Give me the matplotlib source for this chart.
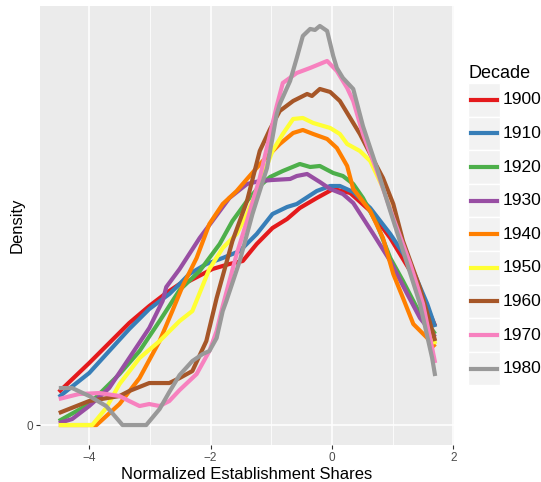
import numpy as np
import matplotlib
matplotlib.use("Agg")
import matplotlib.pyplot as plt
from matplotlib.patches import Rectangle
from matplotlib.lines import Line2D

plt.rcParams['font.family'] = ['Liberation Sans', 'DejaVu Sans']

########## DATA (density of normalized establishment shares by decade) #########
decades = ['1900', '1910', '1920', '1930', '1940', '1950', '1960', '1970', '1980']
colors = ['#E41A1C', '#377EB8', '#4DAF4A', '#984EA3', '#FF7F00',
          '#FFFF33', '#A65628', '#F781BF', '#999999']

x_1900 = [-4.5, -4.0, -3.34, -3.01, -2.73, -2.51, -2.35, -1.97, -1.69, -1.47, -1.24,
          -0.98, -0.74, -0.53, -0.25, 0.02, 0.30, 0.63, 0.96, 1.29, 1.50, 1.70]
d_1900 = [0.033, 0.062, 0.102, 0.119, 0.132, 0.141, 0.144, 0.156, 0.161, 0.164, 0.181,
          0.197, 0.206, 0.217, 0.227, 0.236, 0.232, 0.214, 0.187, 0.154, 0.127, 0.099]

x_1910 = [-4.5, -4.0, -3.34, -3.01, -2.68, -2.51, -2.35, -2.07, -1.80, -1.52, -1.24,
          -0.98, -0.74, -0.58, -0.25, -0.03, 0.13, 0.35, 0.63, 0.96, 1.29, 1.57, 1.70]
d_1910 = [0.028, 0.052, 0.096, 0.116, 0.131, 0.141, 0.151, 0.161, 0.167, 0.174, 0.191,
          0.211, 0.218, 0.221, 0.234, 0.239, 0.239, 0.233, 0.217, 0.191, 0.161, 0.121, 0.098]

x_1920 = [-4.5, -4.0, -3.50, -3.17, -2.84, -2.51, -2.18, -1.85, -1.64, -1.40, -1.19,
          -1.02, -0.81, -0.53, -0.36, -0.20, 0.02, 0.18, 0.35, 0.51, 0.74, 0.96, 1.17,
          1.40, 1.70]
d_1920 = [0.004, 0.021, 0.051, 0.074, 0.104, 0.135, 0.154, 0.181, 0.204, 0.224, 0.239,
          0.248, 0.254, 0.261, 0.258, 0.259, 0.252, 0.249, 0.241, 0.227, 0.201, 0.167,
          0.144, 0.117, 0.091]

x_1930 = [-4.5, -4.28, -4.0, -3.67, -3.34, -3.01, -2.79, -2.73, -2.51, -2.18, -1.97,
          -1.69, -1.40, -1.19, -0.98, -0.69, -0.58, -0.41, -0.20, -0.03, 0.18, 0.35,
          0.68, 0.96, 1.24, 1.45, 1.70]
d_1930 = [0.002, 0.006, 0.019, 0.037, 0.067, 0.097, 0.124, 0.138, 0.156, 0.187, 0.204,
          0.227, 0.241, 0.244, 0.245, 0.246, 0.249, 0.251, 0.243, 0.236, 0.231, 0.222,
          0.191, 0.164, 0.131, 0.107, 0.088]

x_1940 = [-4.5, -3.88, -3.50, -3.17, -2.84, -2.63, -2.46, -2.23, -2.02, -1.80, -1.57,
          -1.40, -1.14, -0.86, -0.64, -0.48, -0.31, -0.08, 0.08, 0.25, 0.35, 0.63, 0.84,
          1.01, 1.17, 1.34, 1.57, 1.70]
d_1940 = [0.0, 0.0, 0.021, 0.047, 0.084, 0.114, 0.139, 0.167, 0.201, 0.221, 0.234,
          0.246, 0.264, 0.281, 0.292, 0.295, 0.291, 0.286, 0.277, 0.259, 0.236, 0.214,
          0.187, 0.151, 0.127, 0.101, 0.087, 0.078]

x_1950 = [-4.5, -3.95, -3.72, -3.50, -3.17, -2.84, -2.51, -2.30, -2.02, -1.80, -1.57,
          -1.40, -1.19, -0.98, -0.81, -0.64, -0.48, -0.31, -0.03, 0.13, 0.25, 0.46, 0.63,
          0.84, 1.07, 1.29, 1.50, 1.70]
d_1950 = [0.0, 0.0, 0.017, 0.041, 0.067, 0.084, 0.104, 0.114, 0.156, 0.177, 0.191,
          0.211, 0.241, 0.274, 0.291, 0.306, 0.307, 0.302, 0.297, 0.291, 0.281, 0.274,
          0.264, 0.237, 0.199, 0.162, 0.124, 0.081]

x_1960 = [-4.5, -4.0, -3.50, -3.34, -3.01, -2.68, -2.51, -2.30, -2.07, -1.90, -1.64,
          -1.40, -1.19, -1.02, -0.86, -0.64, -0.41, -0.33, -0.20, -0.03, 0.13, 0.30,
          0.46, 0.63, 0.84, 1.01, 1.17, 1.45, 1.70]
d_1960 = [0.012, 0.024, 0.029, 0.034, 0.042, 0.042, 0.047, 0.054, 0.084, 0.127, 0.184,
          0.224, 0.274, 0.296, 0.314, 0.324, 0.331, 0.329, 0.336, 0.333, 0.324, 0.307,
          0.291, 0.271, 0.247, 0.221, 0.184, 0.137, 0.084]

x_1970 = [-4.5, -4.17, -3.83, -3.50, -3.34, -3.17, -3.01, -2.84, -2.68, -2.51, -2.23,
          -2.02, -1.90, -1.80, -1.57, -1.40, -1.19, -1.02, -0.91, -0.81, -0.58, -0.36,
          -0.20, -0.08, 0.08, 0.25, 0.35, 0.51, 0.74, 1.01, 1.29, 1.50, 1.70]
d_1970 = [0.026, 0.031, 0.032, 0.029, 0.024, 0.019, 0.021, 0.019, 0.024, 0.035, 0.051,
          0.074, 0.094, 0.119, 0.171, 0.204, 0.247, 0.291, 0.319, 0.342, 0.352, 0.357,
          0.361, 0.364, 0.354, 0.337, 0.324, 0.291, 0.254, 0.207, 0.161, 0.121, 0.062]

x_1980 = [-4.5, -4.28, -4.0, -3.72, -3.45, -3.06, -2.84, -2.68, -2.51, -2.30, -2.13,
          -2.02, -1.90, -1.80, -1.74, -1.52, -1.31, -1.07, -0.91, -0.86, -0.69, -0.58,
          -0.48, -0.36, -0.28, -0.20, -0.08, 0.02, 0.08, 0.18, 0.35, 0.51, 0.74, 0.96,
          1.24, 1.45, 1.65, 1.70]
d_1980 = [0.037, 0.037, 0.029, 0.019, 0.0, 0.0, 0.016, 0.033, 0.050, 0.064, 0.071,
          0.074, 0.087, 0.114, 0.124, 0.164, 0.211, 0.257, 0.311, 0.321, 0.344, 0.367,
          0.389, 0.396, 0.395, 0.399, 0.394, 0.369, 0.357, 0.347, 0.336, 0.299, 0.257,
          0.214, 0.161, 0.121, 0.067, 0.049]

xs = [x_1900, x_1910, x_1920, x_1930, x_1940, x_1950, x_1960, x_1970, x_1980]
ds = [d_1900, d_1910, d_1920, d_1930, d_1940, d_1950, d_1960, d_1970, d_1980]

########## FIGURE ##############################################################
W, H = 541, 482
fig = plt.figure(figsize=(W / 100, H / 100), dpi=100)
ax = fig.add_axes([40 / W, 1 - 445 / H, 414 / W, 439 / H])
ax.set_facecolor('#EBEBEB')
for s in ax.spines.values():
    s.set_visible(False)

for x, d, c in zip(xs, ds, colors):
    ax.plot(x, d, color=c, lw=3.0, solid_capstyle='butt', solid_joinstyle='round',
            zorder=3)

ax.margins(x=0.05, y=0.05)
ax.set_xticks([-4, -2, 0, 2])
ax.set_xticks([-3, -1, 1], minor=True)
ax.set_yticks([0])
ax.grid(True, which='major', color='white', lw=1.1, zorder=0)
ax.grid(True, which='minor', axis='x', color='white', lw=0.55, zorder=0)
ax.set_axisbelow(True)
ax.tick_params(which='major', length=3, width=0.8, color='#333333',
               labelcolor='#4D4D4D', labelsize=8.5, pad=2)
ax.tick_params(which='minor', length=0)

ax.set_xlabel('Normalized Establishment Shares', fontsize=12, labelpad=2)
ax.set_ylabel('Density', fontsize=12, labelpad=1)

# legend built by hand: grey key boxes, line swatch, label
fig.text(468 / W, 1 - 73 / H, 'Decade', fontsize=13, va='center', ha='left')
key_top, key_h, key_w = 83, 33.6, 32
for i, (lab, c) in enumerate(zip(decades, colors)):
    top = key_top + i * key_h
    fig.patches.append(Rectangle((468 / W, 1 - (top + key_h) / H), key_w / W, key_h / H,
                                 transform=fig.transFigure, facecolor='#F2F2F2',
                                 edgecolor='white', lw=1))
    yc = 1 - (top + key_h / 2) / H
    fig.lines.append(Line2D([471 / W, 497 / W], [yc, yc], transform=fig.transFigure,
                            color=c, lw=3.0))
    fig.text(503 / W, yc, lab, fontsize=12.5, va='center', ha='left')

fig.savefig('out.png', dpi=100)
